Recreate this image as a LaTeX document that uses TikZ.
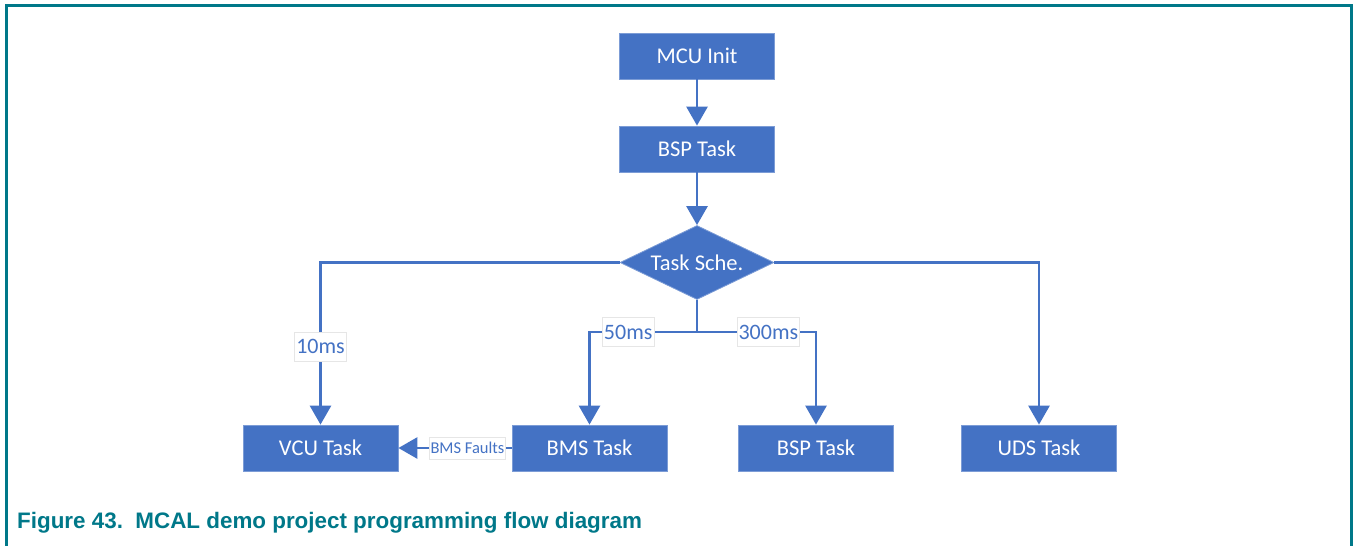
\documentclass[tikz,border=0pt]{standalone}
\usepackage{fontspec}
\setmainfont{Carlito}
\newfontfamily\capfont{Liberation Sans}
\usetikzlibrary{arrows.meta,shapes.geometric}
\definecolor{boxblue}{HTML}{4472C4}
\definecolor{teal}{RGB}{0,120,137}
\definecolor{lblborder}{HTML}{E6E6E6}
\tikzset{
  taskbox/.style={draw=boxblue!70!white, line width=0.8pt, fill=boxblue, text=white,
    minimum width=155pt, minimum height=46pt, inner sep=0pt,
    font=\fontsize{22.5}{26}\selectfont},
  decision/.style={diamond, draw=boxblue!70!white, line width=0.8pt, fill=boxblue, text=white,
    minimum width=154pt, minimum height=74pt, inner sep=0pt,
    font=\fontsize{22.5}{26}\selectfont},
  conn/.style={draw=boxblue, line width=2.8pt},
  arr/.style={conn, -{Triangle[width=21pt,length=19pt]}},
  lbl/.style={fill=white, draw=lblborder, line width=0.6pt, text=boxblue,
    inner xsep=1.5pt, inner ysep=0pt, minimum height=29pt,
    font=\fontsize{22}{25}\selectfont},
  smalllbl/.style={fill=white, draw=lblborder, line width=0.6pt, text=boxblue,
    inner xsep=1pt, inner ysep=0pt, minimum height=22pt,
    font=\fontsize{16.5}{19}\selectfont},
}
\begin{document}
\begin{tikzpicture}[x=1pt,y=-1pt]
\useasboundingbox (0,0) rectangle (1353,546);
% frame
\draw[teal, line width=3pt] (5,5.5) -- (1352,5.5);
\draw[teal, line width=2.5pt] (6.5,4) -- (6.5,546);
\draw[teal, line width=2.5pt] (1351.5,4) -- (1351.5,546);
% nodes
\node[taskbox] (mcu) at (697,56) {MCU Init};
\node[taskbox] (bsp1) at (697,149) {BSP Task};
\node[decision] (ts) at (697,262.5) {\makebox[0pt]{Task Sche.}};
\node[taskbox] (vcu) at (320.5,448) {VCU Task};
\node[taskbox] (bms) at (589.5,448) {BMS Task};
\node[taskbox] (bsp2) at (816,448) {BSP Task};
\node[taskbox] (uds) at (1039,448) {UDS Task};
\coordinate (split) at (697,332);
% connectors
\draw[arr] (mcu) -- (bsp1);
\draw[arr] (bsp1) -- (ts);
\draw[arr] (ts.west) -| (vcu.north) node[lbl, pos=0.76] {10ms};
\draw[arr] (ts.east) -| (uds.north);
\draw[conn] (ts.south) -- (split);
\draw[arr] (split) -| (bms.north) node[lbl, pos=0.32] {50ms};
\draw[arr] (split) -| (bsp2.north) node[lbl, pos=0.30] {300ms};
\draw[arr] (bms.west) -- (vcu.east) node[smalllbl, pos=0.39] {BMS Faults};
% caption
\node[anchor=base west, inner sep=0pt, text=teal, font=\capfont\bfseries\fontsize{22.4}{26}\selectfont] (cap) at (17,528) {Figure 43.\ \ MCAL demo project programming flow diagram};
\end{tikzpicture}
\end{document}
